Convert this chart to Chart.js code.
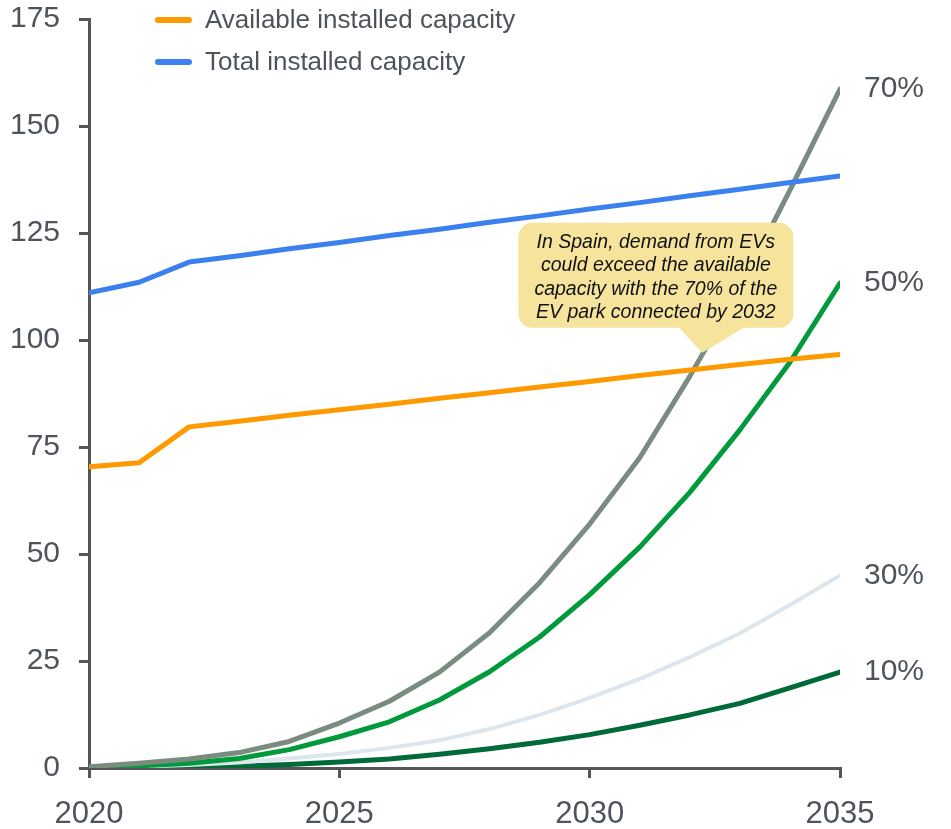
<!DOCTYPE html>
<html lang="en">
<head>
<meta charset="UTF-8">
<title>EV demand vs installed capacity</title>
<script src="https://cdn.jsdelivr.net/npm/chart.js@4"></script>
<style>
    html, body { margin: 0; padding: 0; background: #ffffff; }
    #chart-box { width: 951px; height: 829px; }
</style>
</head>
<body>
<div id="chart-box"><canvas id="capacity-chart" width="951" height="829"></canvas></div>
<script>
// 年（横軸）
const years = [2020, 2021, 2022, 2023, 2024, 2025, 2026, 2027, 2028, 2029, 2030, 2031, 2032, 2033, 2034, 2035];

// 設備容量
const availableCapacity = [70.4, 71.3, 79.7, 81.0, 82.4, 83.7, 85.0, 86.4, 87.7, 89.0, 90.3, 91.7, 93.0, 94.3, 95.5, 96.6];
const totalCapacity = [111.0, 113.5, 118.2, 119.7, 121.3, 122.8, 124.4, 125.9, 127.5, 129.0, 130.6, 132.1, 133.7, 135.2, 136.8, 138.3];

// EV需要（接続率別）
const demand70 = [0.3, 1.1, 2.1, 3.6, 6.2, 10.5, 15.6, 22.4, 31.6, 43.3, 57.0, 72.5, 91.5, 112.0, 135.0, 158.6];
const demand50 = [0.2, 0.5, 1.1, 2.2, 4.3, 7.3, 10.8, 15.9, 22.5, 30.6, 40.5, 51.6, 64.4, 79.0, 94.8, 113.3];
const demand30 = [0.1, 0.3, 0.7, 1.3, 2.2, 3.3, 4.7, 6.5, 9.1, 12.4, 16.4, 20.8, 25.9, 31.5, 38.1, 45.0];
const demand10 = [0.0, 0.1, 0.2, 0.4, 0.8, 1.4, 2.1, 3.2, 4.5, 6.0, 7.8, 10.0, 12.4, 15.1, 18.7, 22.4];

// 目盛り
const xTicks = [2020, 2025, 2030, 2035];
const yTicks = [0, 25, 50, 75, 100, 125, 150, 175];

// 吹き出し
const calloutLines = [
    'In Spain, demand from EVs',
    'could exceed the available',
    'capacity with the 70% of the',
    'EV park connected by 2032'
];
const calloutAt = { x: 2032.25, y: 97 };

const TEXT_COLOR = '#4d545c';
const AXIS_COLOR = '#555555';
const FONT = '"Liberation Sans", Arial, sans-serif';

function toPoints(values) {
    return values.map((v, i) => ({ x: years[i], y: v }));
}

function lineSet(label, values, color, width, order, endLabel) {
    return {
        label: label,
        data: toPoints(values),
        borderColor: color,
        backgroundColor: color,
        borderWidth: width,
        pointRadius: 0,
        tension: 0,
        borderCapStyle: 'round',
        borderJoinStyle: 'round',
        order: order,
        endLabel: endLabel
    };
}

// 凡例・右端ラベル・吹き出しを描くプラグイン
const overlayPlugin = {
    id: 'overlay',
    afterDatasetsDraw(chart) {
        const ctx = chart.ctx;
        const xs = chart.scales.x;
        const ys = chart.scales.y;

        // 右端のラベル
        ctx.save();
        ctx.font = '30px ' + FONT;
        ctx.fillStyle = TEXT_COLOR;
        ctx.textAlign = 'left';
        ctx.textBaseline = 'middle';
        chart.data.datasets.forEach(ds => {
            if (!ds.endLabel) return;
            const last = ds.data[ds.data.length - 1];
            ctx.fillText(ds.endLabel, xs.getPixelForValue(last.x) + 24, ys.getPixelForValue(last.y));
        });
        ctx.restore();

        // 吹き出し
        const tipX = xs.getPixelForValue(calloutAt.x);
        const tipY = ys.getPixelForValue(calloutAt.y);
        const left = tipX - 184, right = tipX + 91;
        const top = tipY - 130, bottom = tipY - 25;
        ctx.save();
        ctx.fillStyle = '#f6e49d';
        ctx.beginPath();
        ctx.roundRect(left, top, right - left, bottom - top, 14);
        ctx.fill();
        ctx.beginPath();
        ctx.moveTo(tipX - 24, bottom - 1);
        ctx.lineTo(tipX, tipY);
        ctx.lineTo(tipX + 43, bottom - 1);
        ctx.closePath();
        ctx.fill();
        ctx.fillStyle = '#111111';
        ctx.font = 'italic 19.5px ' + FONT;
        ctx.textAlign = 'center';
        ctx.textBaseline = 'middle';
        const cx = (left + right) / 2;
        calloutLines.forEach((line, i) => {
            ctx.fillText(line, cx, top + 20 + i * 23.2);
        });
        ctx.restore();

        // 凡例（設備容量の2系列のみ）
        ctx.save();
        ctx.font = '26px ' + FONT;
        ctx.textAlign = 'left';
        ctx.textBaseline = 'middle';
        ctx.lineCap = 'round';
        chart.data.datasets.filter(ds => ds.inLegend).forEach((ds, i) => {
            const ly = 20 + i * 42;
            ctx.strokeStyle = ds.borderColor;
            ctx.lineWidth = 6;
            ctx.beginPath();
            ctx.moveTo(158, ly);
            ctx.lineTo(189, ly);
            ctx.stroke();
            ctx.fillStyle = TEXT_COLOR;
            ctx.fillText(ds.label, 205, ly + 1);
        });
        ctx.restore();
    }
};

const available = lineSet('Available installed capacity', availableCapacity, '#ff9900', 5, 0, null);
available.inLegend = true;
const total = lineSet('Total installed capacity', totalCapacity, '#3a80ee', 5, 1, null);
total.inLegend = true;

const ctx = document.getElementById('capacity-chart').getContext('2d');
new Chart(ctx, {
    type: 'line',
    data: {
        datasets: [
            available,
            total,
            lineSet('70%', demand70, '#7a8c80', 5, 2, '70%'),
            lineSet('50%', demand50, '#009a3c', 5, 3, '50%'),
            lineSet('30%', demand30, '#dde5ed', 4, 4, '30%'),
            lineSet('10%', demand10, '#006a38', 5, 5, '10%')
        ]
    },
    options: {
        responsive: false,
        animation: false,
        layout: { padding: { left: 0, right: 111, top: 19, bottom: 0 } },
        plugins: {
            legend: { display: false },
            tooltip: { enabled: false }
        },
        scales: {
            x: {
                type: 'linear',
                min: 2020,
                max: 2035,
                afterBuildTicks: s => { s.ticks = xTicks.map(v => ({ value: v })); },
                afterFit: s => { s.height = 61; },
                grid: { display: true, drawOnChartArea: false, drawTicks: true, tickLength: 10, color: AXIS_COLOR, lineWidth: 3 },
                border: { display: true, color: AXIS_COLOR, width: 3 },
                ticks: {
                    color: TEXT_COLOR,
                    font: { family: FONT, size: 31 },
                    padding: 18,
                    maxRotation: 0,
                    callback: v => String(v)
                }
            },
            y: {
                min: 0,
                max: 175,
                afterBuildTicks: s => { s.ticks = yTicks.map(v => ({ value: v })); },
                // 上下の余白は layout.padding で決める
                afterFit: s => { s.width = 89; s.paddingTop = 0; s.paddingBottom = 0; },
                grid: { display: true, drawOnChartArea: false, drawTicks: true, tickLength: 10, color: AXIS_COLOR, lineWidth: 3 },
                border: { display: true, color: AXIS_COLOR, width: 3 },
                ticks: {
                    color: TEXT_COLOR,
                    font: { family: FONT, size: 30 },
                    padding: 19,
                    callback: v => String(v)
                }
            }
        }
    },
    plugins: [overlayPlugin]
});
</script>
</body>
</html>
